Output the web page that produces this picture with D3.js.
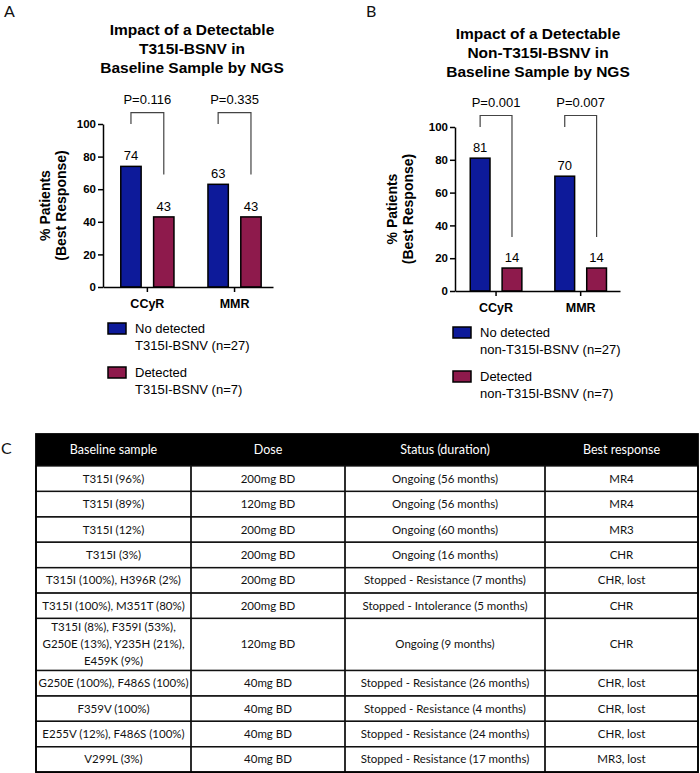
<!DOCTYPE html>
<html>
<head>
<meta charset="utf-8">
<script src="https://cdn.jsdelivr.net/npm/d3@7"></script>
<style>
  html, body { margin: 0; padding: 0; background: #fff; }
  svg { display: block; }
</style>
</head>
<body>
<svg id="chart" width="700" height="773"></svg>
<script>
// ---------- DATA ----------
const categories = ["CCyR", "MMR"];
const seriesKeys = ["none", "detected"];
const yTicks = [0, 20, 40, 60, 80, 100];

const titleA = ["Impact of a Detectable", "T315I-BSNV in", "Baseline Sample by NGS"];
const noDetectedA = [74, 63];
const detectedA = [43, 43];
const pValuesA = ["P=0.116", "P=0.335"];
const legendA = [["No detected", "T315I-BSNV (n=27)"], ["Detected", "T315I-BSNV (n=7)"]];

const titleB = ["Impact of a Detectable", "Non-T315I-BSNV in", "Baseline Sample by NGS"];
const noDetectedB = [81, 70];
const detectedB = [14, 14];
const pValuesB = ["P=0.001", "P=0.007"];
const legendB = [["No detected", "non-T315I-BSNV (n=27)"], ["Detected", "non-T315I-BSNV (n=7)"]];

// bracket levels in axis units: [top, left leg end, right leg end]
const bracketA = [107, 100, 69];
const bracketB = [107, 100, 33];

const yAxisLabel = ["% Patients", "(Best Response)"];

const tableHeader = ["Baseline sample", "Dose", "Status (duration)", "Best response"];
const colBaseline = [
  ["T315I (96%)"], ["T315I (89%)"], ["T315I (12%)"], ["T315I (3%)"],
  ["T315I (100%), H396R (2%)"], ["T315I (100%), M351T (80%)"],
  ["T315I (8%), F359I (53%),", "G250E (13%), Y235H (21%),", "E459K (9%)"],
  ["G250E (100%), F486S (100%)"], ["F359V (100%)"], ["E255V (12%), F486S (100%)"], ["V299L (3%)"]
];
const colDose = ["200mg BD", "120mg BD", "200mg BD", "200mg BD", "200mg BD", "200mg BD",
  "120mg BD", "40mg BD", "40mg BD", "40mg BD", "40mg BD"];
const colStatus = ["Ongoing (56 months)", "Ongoing (56 months)", "Ongoing (60 months)", "Ongoing (16 months)",
  "Stopped - Resistance (7 months)", "Stopped - Intolerance (5 months)", "Ongoing (9 months)",
  "Stopped - Resistance (26 months)", "Stopped - Resistance (4 months)", "Stopped - Resistance (24 months)",
  "Stopped - Resistance  (17 months)"];
const colResponse = ["MR4", "MR4", "MR3", "CHR", "CHR, lost", "CHR", "CHR", "CHR, lost", "CHR, lost",
  "CHR, lost", "MR3, lost"];

// ---------- STYLE ----------
const BLUE = "#0d1a9a";
const RED = "#8e1a4c";
const colors = { none: BLUE, detected: RED };
const CHART_FONT = "'Liberation Sans', Arial, Helvetica, sans-serif";
const TABLE_FONT = "Lato, 'Open Sans', sans-serif";

const svg = d3.select("#chart");

function drawPanel(cfg) {
  const g = svg.append("g");
  // panel letter
  g.append("text").attr("x", cfg.letterX).attr("y", 17).text(cfg.letter)
    .style("font-family", TABLE_FONT).style("font-size", "16px").attr("fill", "#111");

  // title
  g.append("g").selectAll("text").data(cfg.title).join("text")
    .attr("x", cfg.titleX).attr("y", (d, i) => cfg.titleY + i * 19)
    .attr("text-anchor", "middle")
    .style("font-family", CHART_FONT).style("font-weight", "bold").style("font-size", "15.5px")
    .text(d => d);

  const y = d3.scaleLinear().domain([0, 100]).range([cfg.y0, cfg.y100]);
  const x0 = d3.scaleBand().domain(categories).range([cfg.xL, cfg.xR])
    .paddingInner(0.39).paddingOuter(0.17).align(cfg.align);
  const x1 = d3.scaleBand().domain(seriesKeys).range([0, x0.bandwidth()]).paddingInner(0.38);

  const rows = categories.map((c, i) => ({ cat: c, none: cfg.none[i], detected: cfg.detected[i], p: cfg.p[i] }));

  // bars
  const grp = g.append("g").selectAll("g").data(rows).join("g")
    .attr("transform", d => `translate(${x0(d.cat)},0)`);
  grp.selectAll("rect").data(d => seriesKeys.map(k => ({ key: k, value: d[k] }))).join("rect")
    .attr("x", d => x1(d.key)).attr("width", x1.bandwidth())
    .attr("y", d => y(d.value)).attr("height", d => y(0) - y(d.value))
    .attr("fill", d => colors[d.key]).attr("stroke", "#000").attr("stroke-width", 1.5);
  grp.selectAll("text.val").data(d => seriesKeys.map(k => ({ key: k, value: d[k] }))).join("text")
    .attr("class", "val")
    .attr("x", d => x1(d.key) + x1.bandwidth() / 2).attr("y", d => y(d.value) - 6)
    .attr("text-anchor", "middle")
    .style("font-family", CHART_FONT).style("font-size", "13px")
    .text(d => d.value);

  // brackets
  const [bTop, bLeft, bRight] = cfg.bracket;
  rows.forEach(d => {
    const lx = x0(d.cat) + x1("none") + x1.bandwidth() / 2;
    const rx = x0(d.cat) + x1("detected") + x1.bandwidth() / 2;
    g.append("path")
      .attr("d", `M${lx},${y(bLeft)}V${y(bTop)}H${rx}V${y(bRight)}`)
      .attr("fill", "none").attr("stroke", "#444").attr("stroke-width", 1.2);
    g.append("text").attr("x", (lx + rx) / 2).attr("y", y(bTop) - 9)
      .attr("text-anchor", "middle")
      .style("font-family", CHART_FONT).style("font-size", "13px")
      .text(d.p);
  });

  // y axis
  const ya = g.append("g").attr("transform", `translate(${cfg.xL},0)`)
    .call(d3.axisLeft(y).tickValues(yTicks).tickSize(5).tickSizeOuter(0).tickPadding(2));
  ya.selectAll("text").style("font-family", CHART_FONT).style("font-weight", "bold").style("font-size", "11.5px");
  ya.selectAll("path, line").attr("stroke", "#000").attr("stroke-width", 1.5);

  // x axis
  const xa = g.append("g").attr("transform", `translate(0,${cfg.y0})`)
    .call(d3.axisBottom(x0).tickSize(5).tickSizeOuter(0).tickPadding(7));
  xa.selectAll("text").style("font-family", CHART_FONT).style("font-weight", "bold").style("font-size", "12.5px");
  xa.selectAll("path, line").attr("stroke", "#000").attr("stroke-width", 1.5);

  // y label
  const cy = (cfg.y0 + cfg.y100) / 2;
  g.append("g").selectAll("text").data(yAxisLabel).join("text")
    .attr("transform", (d, i) => `translate(${cfg.xL - cfg.ylabOff + i * 16},${cy}) rotate(-90)`)
    .attr("text-anchor", "middle")
    .style("font-family", CHART_FONT).style("font-weight", "bold").style("font-size", "14px")
    .text(d => d);

  // legend
  const lg = g.append("g").selectAll("g").data(cfg.legend).join("g")
    .attr("transform", (d, i) => `translate(${cfg.legX},${cfg.legY + i * 44})`);
  lg.append("rect").attr("x", 0).attr("y", 0).attr("width", 18).attr("height", 11)
    .attr("fill", (d, i) => colors[seriesKeys[i]]).attr("stroke", "#000").attr("stroke-width", 1.5);
  lg.selectAll("text").data(d => d).join("text")
    .attr("x", 27).attr("y", (d, i) => 10 + i * 17)
    .style("font-family", CHART_FONT).style("font-size", "13px")
    .text(d => d);
}

drawPanel({
  letter: "A", letterX: 4, title: titleA, titleX: 192, titleY: 35,
  none: noDetectedA, detected: detectedA, p: pValuesA, bracket: bracketA,
  xL: 103, xR: 273, align: 0.6, y0: 287, y100: 124, ylabOff: 53,
  legend: legendA, legX: 108, legY: 323
});
drawPanel({
  letter: "B", letterX: 366, title: titleB, titleX: 538, titleY: 39,
  none: noDetectedB, detected: detectedB, p: pValuesB, bracket: bracketB,
  xL: 455, xR: 620, align: 0.53, y0: 291, y100: 127, ylabOff: 58,
  legend: legendB, legX: 453, legY: 327
});

// ---------- TABLE ----------
const colEdges = [36, 191, 345, 545, 698];
const headerTop = 434, headerH = 32, rowH = 25.4;
const rowHeights = colBaseline.map(c => c.length > 1 ? rowH * 2.05 : rowH);
const rowTops = [];
rowHeights.reduce((acc, h) => { rowTops.push(acc); return acc + h; }, headerTop + headerH);
const tableBottom = rowTops[rowTops.length - 1] + rowHeights[rowHeights.length - 1];

svg.append("text").attr("x", 1).attr("y", 454).text("C")
  .style("font-family", TABLE_FONT).style("font-size", "16px").attr("fill", "#111");

const tbl = svg.append("g");
tbl.append("rect").attr("x", colEdges[0]).attr("y", headerTop)
  .attr("width", colEdges[4] - colEdges[0]).attr("height", headerH).attr("fill", "#000");
tbl.selectAll("text.hd").data(tableHeader).join("text").attr("class", "hd")
  .attr("x", (d, i) => (colEdges[i] + colEdges[i + 1]) / 2)
  .attr("y", headerTop + headerH / 2).attr("dy", "0.35em")
  .attr("text-anchor", "middle").attr("fill", "#fff")
  .style("font-family", TABLE_FONT).style("font-size", "12.5px")
  .text(d => d);

const bodyRows = colBaseline.map((b, i) => ({
  cells: [b, [colDose[i]], [colStatus[i]], [colResponse[i]]],
  top: rowTops[i], h: rowHeights[i]
}));

bodyRows.forEach(r => {
  r.cells.forEach((lines, ci) => {
    tbl.append("rect").attr("x", colEdges[ci]).attr("y", r.top)
      .attr("width", colEdges[ci + 1] - colEdges[ci]).attr("height", r.h)
      .attr("fill", "none").attr("stroke", "#111").attr("stroke-width", 1.3);
    const cx = (colEdges[ci] + colEdges[ci + 1]) / 2;
    const cyc = r.top + r.h / 2;
    lines.forEach((t, li) => {
      tbl.append("text").attr("x", cx)
        .attr("y", cyc + (li - (lines.length - 1) / 2) * 17).attr("dy", "0.35em")
        .attr("text-anchor", "middle").attr("fill", "#111")
        .style("font-family", TABLE_FONT).style("font-size", "11.5px")
        .text(t);
    });
  });
});
tbl.append("rect").attr("x", colEdges[0]).attr("y", headerTop)
  .attr("width", colEdges[4] - colEdges[0]).attr("height", tableBottom - headerTop)
  .attr("fill", "none").attr("stroke", "#000").attr("stroke-width", 1.8);
</script>
</body>
</html>
